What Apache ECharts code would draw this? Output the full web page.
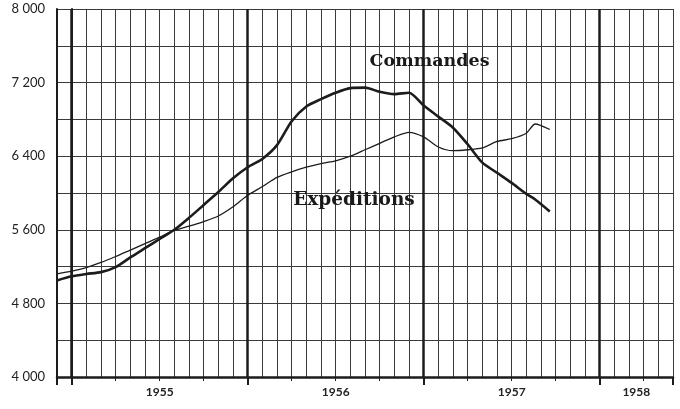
<!DOCTYPE html>
<html>
<head>
<meta charset="utf-8">
<script src="https://cdn.jsdelivr.net/npm/echarts@6/dist/echarts.min.js"></script>
<style>
  html, body { margin: 0; padding: 0; background: #fff; }
  #chart { width: 680px; height: 409px; }
</style>
</head>
<body>
<div id="chart"></div>
<script>
// months counted from Jan 1955 (0 = Jan 1955, 12 = Jan 1956 ...)
var months = [-1, 0, 1, 2, 3, 4, 5, 6, 7, 8, 9, 10, 11, 12, 13, 14, 15, 16, 17, 18, 19, 20,
  21, 22, 23, 24, 25, 26, 27, 28, 29, 30, 31, 31.6, 32.6]
var commandes = [5050, 5095, 5120, 5140, 5195, 5300, 5400, 5500, 5600, 5730, 5870, 6010, 6160,
  6280, 6370, 6520, 6780, 6940, 7020, 7090, 7140, 7145, 7100, 7075, 7090, 6950, 6830, 6710,
  6530, 6330, 6220, 6110, 5990, 5930, 5800]
var expeditions = [5120, 5150, 5190, 5245, 5310, 5380, 5450, 5520, 5595, 5640, 5690, 5750, 5850,
  5975, 6070, 6170, 6230, 6280, 6320, 6350, 6400, 6470, 6540, 6610, 6660, 6610, 6500, 6460,
  6470, 6490, 6560, 6590, 6650, 6750, 6690]

var yearStarts = [0, 12, 24, 36]
var yearLabelPos = [6, 18, 30, 38.5]
var yearLabels = ['1955', '1956', '1957', '1958']
var quarterTicks = [3, 6, 9, 15, 18, 21, 27, 30, 33, 39]

var ink = '#1c1c1c'

function pairs(ys) {
  return months.map(function(m, i) { return [m, ys[i]] })
}

var chart = echarts.init(document.getElementById('chart'))
chart.setOption({
  backgroundColor: '#fff',
  animation: false,
  grid: { left: 57, right: 7, top: 9, bottom: 32 },
  xAxis: [
    {
      type: 'value', min: -1, max: 41, interval: 1,
      axisLine: { show: true, onZero: false, lineStyle: { color: ink, width: 2.5 } },
      axisTick: { show: false },
      axisLabel: { show: false },
      splitLine: { show: true, lineStyle: { color: '#3a3a3a', width: 1 } }
    },
    {
      // year labels + quarter ticks
      type: 'value', min: -1, max: 41, position: 'bottom',
      axisLine: { show: false },
      splitLine: { show: false },
      axisTick: {
        show: true, inside: false, length: 4, customValues: quarterTicks,
        lineStyle: { color: ink, width: 1 }
      },
      axisLabel: {
        show: true, customValues: yearLabelPos, margin: 9,
        fontFamily: 'Lato', fontSize: 12, fontWeight: 'bold', color: '#222',
        formatter: function(v) {
          var i = yearLabelPos.indexOf(v)
          return i >= 0 ? yearLabels[i] : ''
        }
      }
    },
    {
      // longer ticks at each new year
      type: 'value', min: -1, max: 41, position: 'bottom',
      axisLine: { show: false },
      splitLine: { show: false },
      axisLabel: { show: false },
      axisTick: {
        show: true, length: 8, customValues: yearStarts.concat([-1, 41]),
        lineStyle: { color: ink, width: 2 }
      }
    }
  ],
  yAxis: [
    {
      type: 'value', min: 4000, max: 8000, interval: 400,
      axisLine: { show: true, onZero: false, lineStyle: { color: ink, width: 2 } },
      axisTick: { show: false },
      splitLine: { show: true, lineStyle: { color: '#3a3a3a', width: 1 } },
      axisLabel: {
        margin: 12, fontFamily: 'Lato', fontSize: 13, color: '#222',
        formatter: function(v) {
          if ((v - 4000) % 800 !== 0) return ''
          return String(v).replace(/(\d)(?=(\d{3})+$)/, '$1 ')
        }
      }
    },
    {
      type: 'value', min: 4000, max: 8000, position: 'right',
      axisLine: { show: true, lineStyle: { color: ink, width: 2 } },
      axisTick: { show: false },
      axisLabel: { show: false },
      splitLine: { show: false }
    }
  ],
  series: [
    {
      name: 'Commandes',
      type: 'line',
      data: pairs(commandes),
      showSymbol: false,
      smooth: 0.25,
      lineStyle: { color: ink, width: 2.6 },
      markLine: {
        silent: true,
        symbol: 'none',
        label: { show: false },
        lineStyle: { color: ink, width: 2.5, type: 'solid' },
        data: yearStarts.map(function(x) { return { xAxis: x } })
      },
      markPoint: {
        symbolSize: 0,
        label: {
          show: true, position: 'inside', formatter: '{b}',
          fontFamily: 'DejaVu Serif', fontWeight: 'bold', fontSize: 17.5, color: '#1a1a1a'
        },
        data: [{ name: 'Commandes', coord: [24.4, 7430] }]
      }
    },
    {
      name: 'Expéditions',
      type: 'line',
      data: pairs(expeditions),
      showSymbol: false,
      smooth: 0.25,
      lineStyle: { color: ink, width: 1.3 },
      markPoint: {
        symbolSize: 0,
        label: {
          show: true, position: 'inside', formatter: '{b}',
          fontFamily: 'DejaVu Serif', fontWeight: 'bold', fontSize: 18.5, color: '#1a1a1a'
        },
        data: [{ name: 'Expéditions', coord: [19.25, 5926] }]
      }
    }
  ]
})
</script>
</body>
</html>
